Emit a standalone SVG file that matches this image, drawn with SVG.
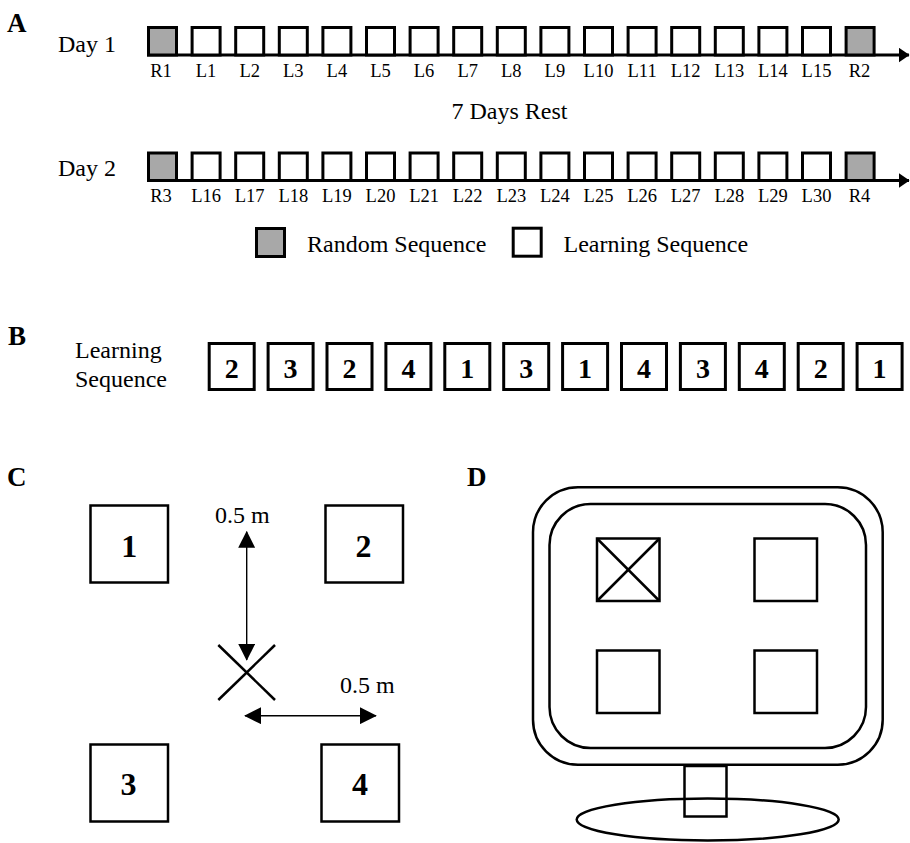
<svg xmlns="http://www.w3.org/2000/svg" width="910" height="843" viewBox="0 0 910 843">
<defs>
<style>
text{font-family:"Liberation Serif","Times New Roman",serif;fill:#000}
.pl{font-weight:bold;font-size:27px}
.lab{font-size:24px}
.sm{font-size:18.5px;text-anchor:middle}
.tb{fill:#fff;stroke:#000;stroke-width:3}
.tg{fill:#a8a8a8;stroke:#000;stroke-width:3}
.bx{fill:#fff;stroke:#000;stroke-width:3}
.bn{font-weight:bold;font-size:28px;text-anchor:middle}
.cb{fill:#fff;stroke:#000;stroke-width:2.5}
.cn{font-weight:bold;font-size:32px;text-anchor:middle}
.thin{stroke:#000;stroke-width:1.4;fill:none}
.ln{stroke:#000;stroke-width:2.5;fill:none}
</style>
<marker id="ah" viewBox="0 0 10 10" refX="9.5" refY="5" markerWidth="17" markerHeight="17" markerUnits="userSpaceOnUse" orient="auto-start-reverse">
<path d="M0,0 L10,5 L0,10 Z" fill="#000"/>
</marker>
<marker id="ahA" viewBox="0 0 10 10" refX="9.5" refY="5" markerWidth="11" markerHeight="15" markerUnits="userSpaceOnUse" orient="auto" preserveAspectRatio="none">
<path d="M0,0 L10,5 L0,10 Z" fill="#000"/>
</marker>
</defs>
<rect width="910" height="843" fill="#fff"/>

<!-- Panel letters -->
<text class="pl" x="7" y="32">A</text>
<text class="pl" x="8" y="345">B</text>
<text class="pl" x="7" y="486">C</text>
<text class="pl" x="467" y="486">D</text>

<g id="connectors">
<line x1="147" y1="55" x2="909" y2="55" stroke="#000" stroke-width="3" marker-end="url(#ahA)"/>
<line x1="147" y1="180.5" x2="909" y2="180.5" stroke="#000" stroke-width="3" marker-end="url(#ahA)"/>
<line class="thin" x1="246.7" y1="531.7" x2="246.7" y2="660" marker-start="url(#ah)" marker-end="url(#ah)"/>
<line class="thin" x1="245" y1="715.7" x2="376" y2="715.7" marker-start="url(#ah)" marker-end="url(#ah)"/>
</g>

<g id="day1">
<text class="lab" x="58" y="52">Day 1</text>
<rect class="tg" x="148.5" y="27.5" width="28" height="27.5"/>
<rect class="tb" x="192.1" y="27.5" width="28" height="27.5"/>
<rect class="tb" x="235.7" y="27.5" width="28" height="27.5"/>
<rect class="tb" x="279.3" y="27.5" width="28" height="27.5"/>
<rect class="tb" x="322.9" y="27.5" width="28" height="27.5"/>
<rect class="tb" x="366.5" y="27.5" width="28" height="27.5"/>
<rect class="tb" x="410.1" y="27.5" width="28" height="27.5"/>
<rect class="tb" x="453.7" y="27.5" width="28" height="27.5"/>
<rect class="tb" x="497.3" y="27.5" width="28" height="27.5"/>
<rect class="tb" x="540.9" y="27.5" width="28" height="27.5"/>
<rect class="tb" x="584.5" y="27.5" width="28" height="27.5"/>
<rect class="tb" x="628.1" y="27.5" width="28" height="27.5"/>
<rect class="tb" x="671.7" y="27.5" width="28" height="27.5"/>
<rect class="tb" x="715.3" y="27.5" width="28" height="27.5"/>
<rect class="tb" x="758.9" y="27.5" width="28" height="27.5"/>
<rect class="tb" x="802.5" y="27.5" width="28" height="27.5"/>
<rect class="tg" x="846.1" y="27.5" width="28" height="27.5"/>
<text class="sm" x="161" y="76.5">R1</text>
<text class="sm" x="206.1" y="76.5">L1</text>
<text class="sm" x="249.7" y="76.5">L2</text>
<text class="sm" x="293.3" y="76.5">L3</text>
<text class="sm" x="336.9" y="76.5">L4</text>
<text class="sm" x="380.5" y="76.5">L5</text>
<text class="sm" x="424.1" y="76.5">L6</text>
<text class="sm" x="467.7" y="76.5">L7</text>
<text class="sm" x="511.3" y="76.5">L8</text>
<text class="sm" x="554.9" y="76.5">L9</text>
<text class="sm" x="598.5" y="76.5">L10</text>
<text class="sm" x="642.1" y="76.5">L11</text>
<text class="sm" x="685.7" y="76.5">L12</text>
<text class="sm" x="729.3" y="76.5">L13</text>
<text class="sm" x="772.9" y="76.5">L14</text>
<text class="sm" x="816.5" y="76.5">L15</text>
<text class="sm" x="859.5" y="76.5">R2</text>
</g>

<g id="rest">
<text class="lab" x="509.5" y="119" text-anchor="middle">7 Days Rest</text>
</g>

<g id="day2">
<text class="lab" x="58" y="176">Day 2</text>
<rect class="tg" x="148.5" y="153" width="28" height="27.5"/>
<rect class="tb" x="192.1" y="153" width="28" height="27.5"/>
<rect class="tb" x="235.7" y="153" width="28" height="27.5"/>
<rect class="tb" x="279.3" y="153" width="28" height="27.5"/>
<rect class="tb" x="322.9" y="153" width="28" height="27.5"/>
<rect class="tb" x="366.5" y="153" width="28" height="27.5"/>
<rect class="tb" x="410.1" y="153" width="28" height="27.5"/>
<rect class="tb" x="453.7" y="153" width="28" height="27.5"/>
<rect class="tb" x="497.3" y="153" width="28" height="27.5"/>
<rect class="tb" x="540.9" y="153" width="28" height="27.5"/>
<rect class="tb" x="584.5" y="153" width="28" height="27.5"/>
<rect class="tb" x="628.1" y="153" width="28" height="27.5"/>
<rect class="tb" x="671.7" y="153" width="28" height="27.5"/>
<rect class="tb" x="715.3" y="153" width="28" height="27.5"/>
<rect class="tb" x="758.9" y="153" width="28" height="27.5"/>
<rect class="tb" x="802.5" y="153" width="28" height="27.5"/>
<rect class="tg" x="846.1" y="153" width="28" height="27.5"/>
<text class="sm" x="161" y="202">R3</text>
<text class="sm" x="206.1" y="202">L16</text>
<text class="sm" x="249.7" y="202">L17</text>
<text class="sm" x="293.3" y="202">L18</text>
<text class="sm" x="336.9" y="202">L19</text>
<text class="sm" x="380.5" y="202">L20</text>
<text class="sm" x="424.1" y="202">L21</text>
<text class="sm" x="467.7" y="202">L22</text>
<text class="sm" x="511.3" y="202">L23</text>
<text class="sm" x="554.9" y="202">L24</text>
<text class="sm" x="598.5" y="202">L25</text>
<text class="sm" x="642.1" y="202">L26</text>
<text class="sm" x="685.7" y="202">L27</text>
<text class="sm" x="729.3" y="202">L28</text>
<text class="sm" x="772.9" y="202">L29</text>
<text class="sm" x="816.5" y="202">L30</text>
<text class="sm" x="859.5" y="202">R4</text>
</g>

<g id="legend">
<rect class="tg" x="256.5" y="228.5" width="28" height="28"/>
<text class="lab" x="307" y="252">Random Sequence</text>
<rect class="tb" x="513.2" y="228.2" width="28" height="28"/>
<text class="lab" x="563.5" y="252">Learning Sequence</text>
</g>

<g id="seq-label">
<text class="lab" x="75" y="358">Learning</text>
<text class="lab" x="75" y="387">Sequence</text>
</g>
<g id="sequence">
<rect class="bx" x="209.2" y="343.5" width="45" height="46"/>
<rect class="bx" x="268.1" y="343.5" width="45" height="46"/>
<rect class="bx" x="327.0" y="343.5" width="45" height="46"/>
<rect class="bx" x="385.9" y="343.5" width="45" height="46"/>
<rect class="bx" x="444.8" y="343.5" width="45" height="46"/>
<rect class="bx" x="503.7" y="343.5" width="45" height="46"/>
<rect class="bx" x="562.6" y="343.5" width="45" height="46"/>
<rect class="bx" x="621.5" y="343.5" width="45" height="46"/>
<rect class="bx" x="680.4" y="343.5" width="45" height="46"/>
<rect class="bx" x="739.3" y="343.5" width="45" height="46"/>
<rect class="bx" x="798.2" y="343.5" width="45" height="46"/>
<rect class="bx" x="857.1" y="343.5" width="45" height="46"/>
<text class="bn" x="231.7" y="378">2</text>
<text class="bn" x="290.6" y="378">3</text>
<text class="bn" x="349.5" y="378">2</text>
<text class="bn" x="408.4" y="378">4</text>
<text class="bn" x="467.3" y="378">1</text>
<text class="bn" x="526.2" y="378">3</text>
<text class="bn" x="585.1" y="378">1</text>
<text class="bn" x="644.0" y="378">4</text>
<text class="bn" x="702.9" y="378">3</text>
<text class="bn" x="761.8" y="378">4</text>
<text class="bn" x="820.7" y="378">2</text>
<text class="bn" x="879.6" y="378">1</text>
</g>

<g id="target1"><rect class="cb" x="90.5" y="505.5" width="77.5" height="77"/><text class="cn" x="129.3" y="556.7">1</text></g>
<g id="target2"><rect class="cb" x="325.5" y="505.5" width="77.5" height="77"/><text class="cn" x="363.5" y="556.7">2</text></g>
<g id="target3"><rect class="cb" x="90.5" y="744.5" width="77.5" height="77"/><text class="cn" x="128.5" y="795">3</text></g>
<g id="target4"><rect class="cb" x="321.5" y="744.5" width="77.5" height="77"/><text class="cn" x="360" y="795">4</text></g>
<g id="center">
<line class="ln" x1="218.3" y1="645" x2="275" y2="700" stroke-width="2"/>
<line class="ln" x1="275" y1="645" x2="218.3" y2="700" stroke-width="2"/>
</g>
<g id="dims">
<text class="lab" x="215" y="523">0.5 m</text>
<text class="lab" x="340" y="693">0.5 m</text>
</g>

<g id="monitor">
<ellipse class="ln" cx="707.7" cy="819.5" rx="131" ry="21" fill="#fff"/>
<rect class="ln" x="684.5" y="766" width="42" height="50.5" fill="#fff"/>
<rect class="ln" x="533" y="487.3" width="349.7" height="277.4" rx="45" fill="#fff"/>
<rect class="ln" x="549.5" y="504" width="316.5" height="244" rx="41"/>
<rect class="ln" x="597" y="538.5" width="62.5" height="62.5"/>
<line class="ln" x1="597" y1="538.5" x2="659.5" y2="601"/>
<line class="ln" x1="659.5" y1="538.5" x2="597" y2="601"/>
<rect class="ln" x="754.5" y="538.5" width="62.5" height="62.5"/>
<rect class="ln" x="597" y="650.5" width="62.5" height="62.5"/>
<rect class="ln" x="754.5" y="650.5" width="62.5" height="62.5"/>
</g>
</svg>
